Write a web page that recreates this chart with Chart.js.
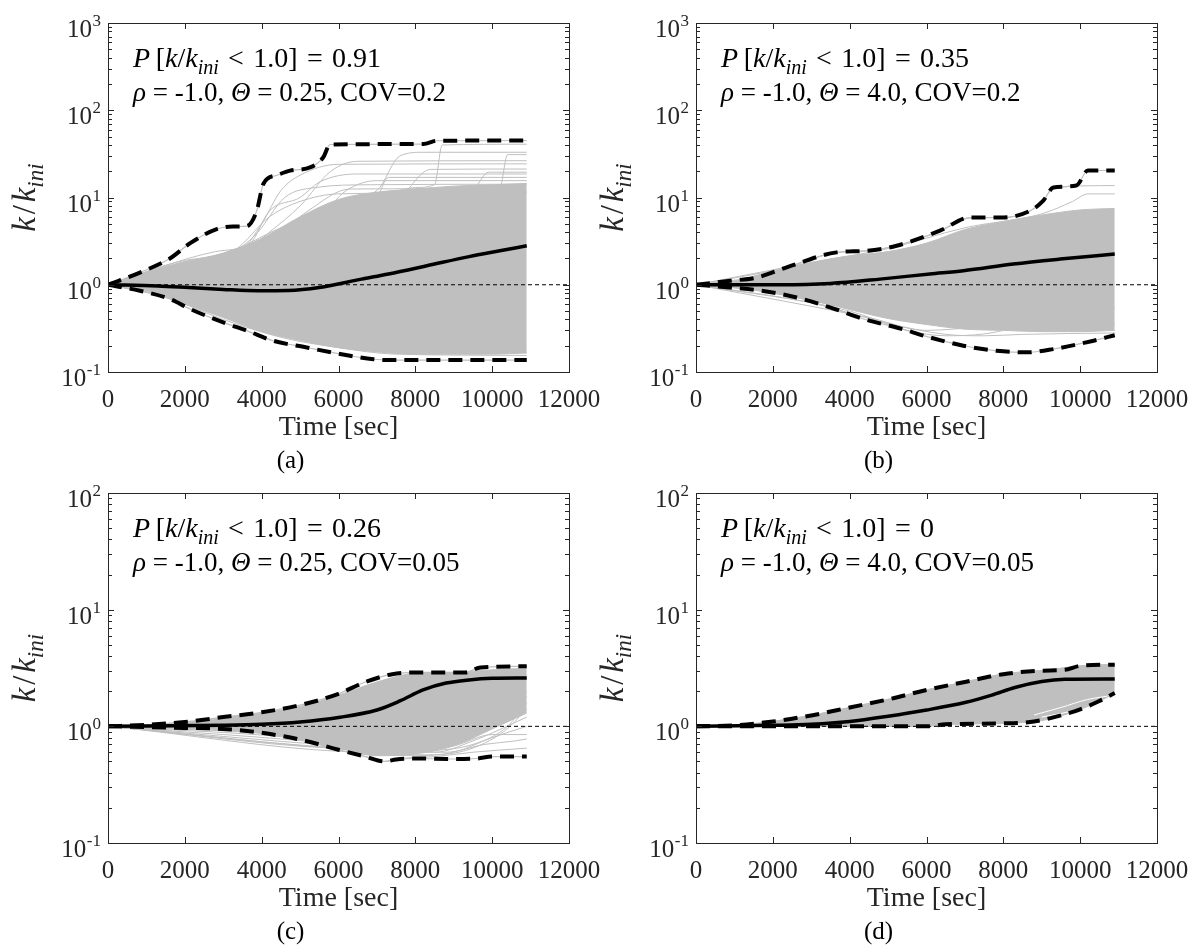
<!DOCTYPE html>
<html>
<head>
<meta charset="utf-8">
<title>k/k_ini sample paths</title>
<script src="https://cdn.jsdelivr.net/npm/chart.js@4.4.1/dist/chart.umd.min.js"></script>
<style>
  html, body { margin: 0; padding: 0; background: #fff; }
  #wrap { position: relative; width: 1200px; height: 949px; overflow: hidden; }
  #wrap canvas { position: absolute; left: 0; top: 0; }
</style>
</head>
<body>
<div id="wrap">
  <canvas id="chartA" width="1200" height="949"></canvas>
  <canvas id="chartB" width="1200" height="949"></canvas>
  <canvas id="chartC" width="1200" height="949"></canvas>
  <canvas id="chartD" width="1200" height="949"></canvas>
</div>
<script>
// shared axes
const xTickVals = [0, 2000, 4000, 6000, 8000, 10000, 12000];
const expsTall = [-1, 0, 1, 2, 3];
const expsShort = [-1, 0, 1, 2];
const bandT = [0, 1000, 2000, 3000, 4000, 5000, 6000, 7000, 8000, 9000, 10000, 10900];
const refLine = [[0, 1], [12000, 1]];

// (a) rho=-1.0, theta=0.25, COV=0.2
const aMean = [[0, 1], [1300, 0.97], [2100, 0.93], [3000, 0.885], [3900, 0.855], [4700, 0.86], [5500, 0.93], [6600, 1.16], [7300, 1.33], [8300, 1.65], [9400, 2.1], [10200, 2.45], [10900, 2.8]];
const aUpper = [[0, 1], [830, 1.38], [1610, 2.0], [2140, 3.0], [2830, 4.35], [3250, 4.65], [3610, 4.7], [3870, 7.0], [4050, 14.5], [4400, 18], [4740, 20.3], [5260, 22.1], [5600, 28.7], [5780, 40.5], [8210, 41], [8560, 44.7], [10900, 45]];
const aLower = [[0, 1], [830, 0.853], [1610, 0.686], [2140, 0.527], [3000, 0.37], [3610, 0.298], [4300, 0.228], [5170, 0.191], [6040, 0.161], [6910, 0.14], [7340, 0.137], [10900, 0.137]];
const aBandHi = [1, 1.4, 1.85, 2.3, 3.4, 6, 9.5, 11.5, 12.5, 13.5, 14, 14.5];
const aBandLo = [1, 0.86, 0.6, 0.42, 0.29, 0.23, 0.19, 0.17, 0.16, 0.16, 0.16, 0.165];
const aPaths = [
  [[0, 1], [2000, 1.9], [3500, 2.6], [4000, 5], [4500, 12], [5000, 18], [6000, 24], [10900, 24.3]],
  [[0, 1], [2000, 1.7], [3600, 2.5], [4200, 4], [5000, 8], [5800, 20], [6500, 26], [10900, 26.4]],
  [[0, 1], [2500, 2], [4000, 3], [5000, 5], [6000, 9], [7000, 12], [7600, 30], [8200, 33], [10900, 33]],
  [[0, 1], [3000, 2.2], [4500, 4.5], [6000, 8], [7000, 10], [8000, 13], [8500, 14], [8700, 40], [10900, 40.8]],
  [[0, 1], [3000, 2], [5000, 4], [6500, 7], [8000, 10], [9000, 12], [10200, 13], [10400, 31], [10900, 31]],
  [[0, 1], [2800, 2.4], [3700, 3], [4200, 7], [5000, 10], [5500, 15], [6500, 18.6], [10900, 18.6]],
  [[0, 1], [3000, 2.3], [4500, 4], [5500, 6], [6200, 12], [7000, 15.6], [10900, 15.6]],
  [[0, 1], [3500, 2.5], [5000, 4], [6000, 6], [7500, 9], [8400, 21], [10900, 21.2]],
  [[0, 1], [2000, 1.8], [3300, 2.5], [4200, 6], [5000, 9], [6000, 11], [10900, 11.5]],
  [[0, 1], [4000, 3], [6000, 6], [7000, 10], [7300, 17], [10900, 17]],
  [[0, 1], [3400, 2.6], [3900, 4], [4600, 10], [5400, 13], [6800, 14], [10900, 14.2]],
  [[0, 1], [3200, 2.4], [4300, 3.5], [5200, 7], [6300, 12.5], [9500, 12.8], [9900, 19.5], [10900, 19.5]],
  [[0, 1], [1500, 0.72], [3000, 0.4], [4500, 0.25], [6000, 0.19], [7500, 0.16], [10900, 0.155]],
  [[0, 1], [1500, 0.75], [3000, 0.45], [5000, 0.26], [7000, 0.19], [9000, 0.17], [10900, 0.17]]
];

// (b) rho=-1.0, theta=4.0, COV=0.2
const bMean = [[0, 1], [2190, 1.0], [3490, 1.035], [4790, 1.16], [6090, 1.33], [6960, 1.45], [8260, 1.73], [9480, 1.97], [10900, 2.25]];
const bUpper = [[0, 1], [890, 1.11], [1580, 1.21], [2360, 1.58], [3660, 2.35], [4440, 2.45], [5220, 2.8], [6350, 4.16], [7130, 5.9], [8000, 5.9], [8700, 7.06], [9040, 9.2], [9300, 13.0], [9900, 13.7], [10200, 20.4], [10900, 20.4]];
const bLower = [[0, 1], [890, 0.93], [1750, 0.85], [2620, 0.715], [3490, 0.55], [4360, 0.405], [5220, 0.324], [6090, 0.249], [6960, 0.2], [7830, 0.175], [8610, 0.168], [9300, 0.183], [10320, 0.227], [10900, 0.264]];
const bBandHi = [1, 1.1, 1.45, 1.8, 2.15, 2.4, 3.0, 4.3, 5.3, 6.3, 7.2, 7.5];
const bBandLo = [1, 0.93, 0.8, 0.66, 0.52, 0.41, 0.35, 0.31, 0.3, 0.29, 0.29, 0.3];
const bPaths = [
  [[0, 1], [2360, 1.58], [3660, 2.35], [4440, 2.45], [5220, 2.8], [6350, 4.1], [7130, 5.8], [8000, 5.9], [8700, 7.0], [9040, 9.1], [9300, 13], [10900, 13.7]],
  [[0, 1], [3000, 1.8], [5000, 2.6], [7000, 4.5], [9000, 6.5], [9800, 9], [10200, 11], [10900, 11]],
  [[0, 1], [3000, 0.62], [5000, 0.36], [6500, 0.27], [7500, 0.26], [8500, 0.27], [10900, 0.28]],
  [[0, 1], [4000, 0.5], [5500, 0.3], [6500, 0.26], [8000, 0.3], [9000, 0.45], [10900, 0.55]],
  [[0, 1], [4500, 0.42], [6000, 0.3], [7500, 0.33], [9000, 0.35], [10900, 0.36]]
];

// (c) rho=-1.0, theta=0.25, COV=0.05
const cMean = [[0, 1], [3000, 1.02], [4000, 1.04], [5000, 1.09], [6000, 1.19], [7000, 1.38], [7600, 1.65], [8200, 2.05], [8800, 2.35], [9400, 2.5], [10000, 2.58], [10900, 2.6]];
const cUpper = [[0, 1], [1000, 1.03], [2000, 1.09], [3000, 1.2], [4000, 1.32], [5000, 1.52], [6000, 1.9], [6700, 2.4], [7400, 2.8], [8000, 2.9], [9300, 2.9], [9700, 3.2], [10900, 3.27]];
const cLower = [[0, 1], [2000, 0.97], [3000, 0.95], [4000, 0.88], [5000, 0.77], [6000, 0.63], [6700, 0.55], [7200, 0.5], [7500, 0.52], [8000, 0.53], [9000, 0.525], [9600, 0.53], [10000, 0.55], [10900, 0.55]];
const cBandHi = [1, 1.03, 1.08, 1.18, 1.3, 1.48, 1.85, 2.4, 2.85, 2.9, 3.05, 3.15];
const cBandLo = [1, 0.99, 0.97, 0.94, 0.88, 0.78, 0.65, 0.56, 0.58, 0.68, 0.95, 1.3];
const cPaths = [
  [[0, 1], [4000, 0.88], [5000, 0.77], [6000, 0.63], [6700, 0.55], [7200, 0.5], [7600, 0.53], [8500, 0.55], [9500, 0.6], [10900, 0.65]],
  [[0, 1], [5000, 0.8], [6500, 0.62], [8000, 0.56], [9000, 0.6], [10000, 0.8], [10900, 1.0]],
  [[0, 1], [5500, 0.75], [7000, 0.6], [8500, 0.6], [9500, 0.75], [10900, 1.2]],
  [[0, 1], [6000, 0.7], [7500, 0.6], [9000, 0.68], [10000, 0.85], [10900, 0.85]],
  [[0, 1], [6000, 0.68], [8000, 0.62], [9500, 0.7], [10400, 1.0], [10900, 1.6]],
  [[0, 1], [7000, 0.65], [8500, 0.7], [10000, 1.0], [10900, 2.0]],
  [[0, 1], [6500, 0.62], [8200, 0.57], [9300, 0.62], [10300, 0.9], [10900, 1.4]],
  [[0, 1], [7000, 0.6], [8800, 0.6], [9800, 0.7], [10600, 0.75], [10900, 0.78]],
  [[0, 1], [6800, 0.64], [8000, 0.65], [9200, 0.85], [10200, 1.3], [10900, 1.8]]
];

// (d) rho=-1.0, theta=4.0, COV=0.05
const dMean = [[0, 1], [2000, 1.02], [3000, 1.04], [4000, 1.1], [5000, 1.22], [6000, 1.38], [7000, 1.6], [7700, 1.85], [8300, 2.15], [9000, 2.42], [9600, 2.53], [10900, 2.55]];
const dUpper = [[0, 1], [1000, 1.02], [2000, 1.1], [3000, 1.24], [4000, 1.45], [5000, 1.7], [6000, 2.05], [7000, 2.4], [8000, 2.8], [9000, 3.0], [9600, 3.05], [10000, 3.3], [10900, 3.38]];
const dLower = [[0, 1], [2000, 1.0], [6000, 1.0], [6500, 1.04], [8000, 1.06], [8800, 1.1], [9500, 1.24], [10000, 1.4], [10500, 1.65], [10900, 1.93]];
const dBandHi = [1, 1.02, 1.1, 1.24, 1.45, 1.7, 2.05, 2.4, 2.8, 3.0, 3.3, 3.38];
const dBandLo = [1, 1, 1, 1, 1, 1, 1.02, 1.05, 1.07, 1.12, 1.4, 1.93];
const dGaps = [
  [[8800, 1.25], [9500, 1.45], [10200, 1.7], [10900, 1.85]],
  [[9000, 1.2], [9800, 1.35], [10500, 1.55], [10900, 1.65]]
];

const GRAY = '#bfbfbf';
const AXIS = '#262626';
const FONT = '"Liberation Serif", "Times New Roman", serif';
const SP = '\u2004';

const pts = arr => arr.map(p => ({ x: p[0], y: p[1] }));
const band = vals => bandT.map((t, i) => ({ x: t, y: vals[i] }));

function lineSet(data, color, width, order, extra) {
  return Object.assign({
    data: data, borderColor: color, borderWidth: width, pointRadius: 0,
    fill: false, cubicInterpolationMode: 'monotone', order: order
  }, extra || {});
}

// draws a run of roman/italic/subscript pieces
function drawRuns(ctx, runs, x, y, size, align) {
  const fontFor = (st, sz) => (st === 'r' ? '' : 'italic ') + sz + 'px ' + FONT;
  const parts = runs.map(([txt, st]) => {
    const sz = st === 's' ? Math.round(size * 0.7) : size;
    ctx.font = fontFor(st, sz);
    return { txt, st, sz, w: ctx.measureText(txt).width };
  });
  const total = parts.reduce((s, p) => s + p.w, 0);
  let cx = align === 'center' ? x - total / 2 : x;
  ctx.textAlign = 'left';
  ctx.textBaseline = 'alphabetic';
  parts.forEach(p => {
    ctx.font = fontFor(p.st, p.sz);
    ctx.fillText(p.txt, cx, y + (p.st === 's' ? size * 0.25 : 0));
    cx += p.w;
  });
}

const matlabAxes = {
  id: 'matlabAxes',
  afterDraw(chart, args, opts) {
    const ctx = chart.ctx;
    const a = chart.chartArea;
    const xs = chart.scales.x, ys = chart.scales.y;
    ctx.save();
    ctx.strokeStyle = AXIS;
    ctx.lineWidth = 1;
    ctx.strokeRect(Math.round(a.left) + 0.5, Math.round(a.top) + 0.5, Math.round(a.right - a.left), Math.round(a.bottom - a.top));

    ctx.beginPath();
    xTickVals.forEach(v => {
      const px = Math.round(xs.getPixelForValue(v)) + 0.5;
      ctx.moveTo(px, a.bottom); ctx.lineTo(px, a.bottom - 6);
      ctx.moveTo(px, a.top); ctx.lineTo(px, a.top + 6);
    });
    opts.exps.forEach((e, i) => {
      const py = Math.round(ys.getPixelForValue(Math.pow(10, e))) + 0.5;
      ctx.moveTo(a.left, py); ctx.lineTo(a.left + 6, py);
      ctx.moveTo(a.right, py); ctx.lineTo(a.right - 6, py);
      if (i < opts.exps.length - 1) {
        for (let m = 2; m <= 9; m++) {
          const my = Math.round(ys.getPixelForValue(m * Math.pow(10, e))) + 0.5;
          ctx.moveTo(a.left, my); ctx.lineTo(a.left + 4, my);
          ctx.moveTo(a.right, my); ctx.lineTo(a.right - 4, my);
        }
      }
    });
    ctx.stroke();

    // tick labels
    ctx.fillStyle = AXIS;
    ctx.font = '25px ' + FONT;
    ctx.textAlign = 'center';
    ctx.textBaseline = 'alphabetic';
    xTickVals.forEach(v => ctx.fillText(String(v), xs.getPixelForValue(v), a.bottom + 35));
    opts.exps.forEach(e => {
      const py = ys.getPixelForValue(Math.pow(10, e));
      const right = a.left - 7;
      ctx.textAlign = 'right';
      ctx.font = '17px ' + FONT;
      const ew = ctx.measureText(String(e)).width;
      ctx.fillText(String(e), right, py + 3);
      ctx.font = '25px ' + FONT;
      ctx.fillText('10', right - ew - 0.5, py + 14);
    });

    // axis titles
    const midX = (a.left + a.right) / 2;
    const midY = (a.top + a.bottom) / 2;
    ctx.font = '28px ' + FONT;
    ctx.textAlign = 'center';
    ctx.fillText('Time [sec]', midX, a.bottom + 63);
    ctx.font = '25px ' + FONT;
    ctx.fillStyle = '#000';
    ctx.fillText(opts.tag, midX - 48, a.bottom + 96);

    ctx.save();
    ctx.translate(a.left - 82, midY);
    ctx.rotate(-Math.PI / 2);
    ctx.fillStyle = AXIS;
    drawRuns(ctx, [['k', 'i'], ['\u200A/\u200A', 'r'], ['k', 'i'], ['ini', 's']], 0, 9, 33, 'center');
    ctx.restore();

    // annotations
    ctx.fillStyle = '#000';
    drawRuns(ctx, [['P', 'i'], ['\u2009[', 'r'], ['k', 'i'], ['/', 'r'], ['k', 'i'], ['ini', 's'],
      [SP + '<' + SP + '1.0]' + SP + '=' + SP + opts.prob, 'r']], a.left + 25, a.top + 44, 28, 'left');
    drawRuns(ctx, [['\u03C1', 'i'], [' = -1.0, ', 'r'], ['\u0398', 'i'], [' = ' + opts.theta + ', COV=' + opts.cov, 'r']],
      a.left + 25, a.top + 78, 27, 'left');
    ctx.restore();
  }
};

const panels = [
  { id: 'chartA', pad: { left: 108, top: 23, right: 631, bottom: 577 }, yMax: 1000, exps: expsTall, tag: '(a)', prob: '0.91', theta: '0.25', cov: '0.2',
    mean: aMean, upper: aUpper, lower: aLower, hi: aBandHi, lo: aBandLo, paths: aPaths, gaps: [] },
  { id: 'chartB', pad: { left: 696, top: 23, right: 43, bottom: 577 }, yMax: 1000, exps: expsTall, tag: '(b)', prob: '0.35', theta: '4.0', cov: '0.2',
    mean: bMean, upper: bUpper, lower: bLower, hi: bBandHi, lo: bBandLo, paths: bPaths, gaps: [] },
  { id: 'chartC', pad: { left: 108, top: 493, right: 631, bottom: 106 }, yMax: 100, exps: expsShort, tag: '(c)', prob: '0.26', theta: '0.25', cov: '0.05',
    mean: cMean, upper: cUpper, lower: cLower, hi: cBandHi, lo: cBandLo, paths: cPaths, gaps: [] },
  { id: 'chartD', pad: { left: 696, top: 493, right: 43, bottom: 106 }, yMax: 100, exps: expsShort, tag: '(d)', prob: '0', theta: '4.0', cov: '0.05',
    mean: dMean, upper: dUpper, lower: dLower, hi: dBandHi, lo: dBandLo, paths: [], gaps: dGaps }
];

panels.forEach(p => {
  const datasets = [
    lineSet(band(p.hi), GRAY, 1, 60, { fill: '+1', backgroundColor: GRAY }),
    lineSet(band(p.lo), GRAY, 1, 60)
  ];
  p.paths.forEach(path => datasets.push(lineSet(pts(path), GRAY, 1, 50)));
  p.gaps.forEach(path => datasets.push(lineSet(pts(path), '#ffffff', 1, 48)));
  datasets.push(lineSet(pts(p.upper), GRAY, 1.2, 45));
  datasets.push(lineSet(pts(p.lower), GRAY, 1.2, 45));
  datasets.push(lineSet(pts(refLine), '#000', 1, 30, { borderDash: [4, 3], cubicInterpolationMode: 'default' }));
  datasets.push(lineSet(pts(p.upper), '#000', 4, 20, { borderDash: [14, 8] }));
  datasets.push(lineSet(pts(p.lower), '#000', 4, 20, { borderDash: [14, 8] }));
  datasets.push(lineSet(pts(p.mean), '#000', 3.5, 10));

  new Chart(document.getElementById(p.id), {
    type: 'line',
    data: { datasets },
    options: {
      responsive: false,
      animation: false,
      devicePixelRatio: 1,
      events: [],
      layout: { padding: p.pad },
      scales: {
        x: { type: 'linear', min: 0, max: 12000, display: false },
        y: { type: 'logarithmic', min: 0.1, max: p.yMax, display: false }
      },
      plugins: {
        legend: { display: false },
        tooltip: { enabled: false },
        matlabAxes: { exps: p.exps, tag: p.tag, prob: p.prob, theta: p.theta, cov: p.cov }
      }
    },
    plugins: [matlabAxes]
  });
});
</script>
</body>
</html>
